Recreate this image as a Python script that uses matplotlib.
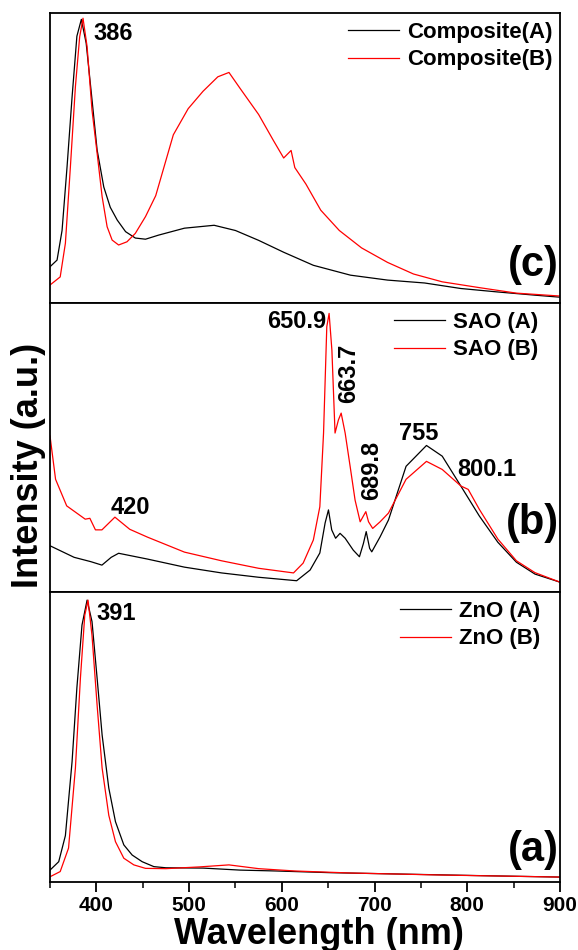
"""
Stacked photoluminescence spectra: ZnO (a), SAO (b) and composite (c)
samples, A (black) and B (red). Intensities are read off the figure
in arbitrary units (0-100 per panel).
"""

import matplotlib
matplotlib.use("Agg")
import matplotlib.pyplot as plt
from matplotlib.ticker import MultipleLocator

plt.rcParams['font.family'] = ['Liberation Sans', 'DejaVu Sans']
plt.rcParams['font.weight'] = 'bold'

# ---- panel (c): composites ----
comp_a_wl = [350, 357.6, 363, 368.4, 373.8, 379, 383.8, 389, 394.7, 400.8, 408,
             415, 422.5, 431.5, 442, 453, 467, 495, 527, 550, 575, 602, 634,
             674, 714, 754, 793, 833, 873, 900]
comp_a_int = [12.5, 14.8, 25, 47, 71, 92, 97.8, 89.6, 72, 52.8, 40,
              33, 28.6, 24.6, 22.4, 22, 23.4, 25.8, 26.8, 25, 21.6, 17.5, 13,
              9.6, 7.9, 6.9, 5, 3.8, 2.7, 2]
comp_b_wl = [350, 361, 366.6, 372, 377.4, 382, 385.6, 390, 395.3, 400.8, 406.2,
             411.6, 417, 424, 433, 442, 453, 464, 483, 499, 515, 531, 543, 555,
             575, 591, 602, 610, 614, 626, 642, 662, 686, 714, 742, 773, 813,
             853, 900]
comp_b_int = [6.2, 9, 20.6, 47, 74.6, 91.8, 98.2, 88.4, 66.5, 51.7, 36.7,
              26.3, 21.7, 20, 21.1, 24, 29.8, 37, 58, 67, 73, 78, 79.5, 74,
              65, 56, 50, 52.6, 46.7, 41, 32, 25, 19, 14, 10, 7.3, 5.3,
              3.4, 2.4]

# ---- panel (b): SAO ----
sao_a_wl = [350, 376, 394, 406, 416, 424, 455, 495, 535, 575, 616, 630.5, 641,
            646.7, 650.3, 653.8, 658, 662.8, 668.3, 677, 683.7, 688, 691,
            694.7, 697, 706, 715, 734, 756, 773, 793, 813, 833, 853, 873, 900]
sao_a_int = [16, 12, 10.5, 9.3, 12, 13.4, 11.4, 8.6, 6.6, 5.1, 3.9, 7.6, 13.5,
             23.9, 28.4, 21.5, 18.6, 20.3, 18.6, 14.5, 12.2, 16.8, 20.9,
             15.1, 13.9, 19.1, 24.9, 43.5, 50.7, 47, 36.7, 26.3, 17.2, 10.3, 6.2, 3.4]
sao_b_wl = [350, 356, 368, 388, 393, 399, 406, 420, 436, 455, 495, 535, 575,
            612.6, 623, 634, 641, 645, 648.5, 651, 654, 657.4, 661, 664, 668.3,
            673.7, 679, 684.5, 690.6, 693.5, 698, 706, 715, 734, 756, 773, 793,
            801, 813, 833, 853, 873, 900]
sao_b_int = [54, 39, 29.8, 25.2, 25.5, 21.5, 21.5, 25.9, 21.7, 19, 13.8, 10.8, 8.2,
             6.6, 10, 18, 29.5, 55, 91.8, 96.4, 83.7, 55, 59.5, 61.9, 55,
             43.4, 31.8, 24.3, 27.8, 24.3, 22, 24.3, 27.3, 39, 45.2, 42.4, 36.7,
             35.5, 28.6, 18.3, 10.8, 6.7, 3.4]

# ---- panel (a): ZnO ----
zno_a_wl = [350, 359.4, 366.6, 373.8, 379, 384.5, 390, 395.3, 400.8, 406.2,
            413.4, 420.6, 429.6, 438.6, 449.4, 462, 475, 515, 555, 594, 654,
            734, 813, 900]
zno_a_int = [4.1, 7, 16, 41.5, 67, 88.6, 97.2, 89.8, 70.3, 50.7,
             32.4, 20.8, 12.8, 9.3, 7, 5.3, 4.9, 4.8, 4.1, 3.8, 3.2,
             2.7, 2.2, 1.7]
zno_b_wl = [350, 361, 370, 377.4, 382.8, 387.5, 391, 395.3, 400.8, 406.2,
            413.4, 420.6, 429.6, 440.4, 453, 475, 511, 543, 575, 614, 674,
            773, 900]
zno_b_int = [1.8, 3.6, 11.7, 39.3, 70.3, 92, 97.2, 85, 61, 39.3,
             23, 13.9, 8.2, 5.9, 4.7, 4.6, 5.2, 5.9, 4.6, 3.8, 3.1,
             2.4, 1.7]

panels = [
    (comp_a_wl, comp_a_int, comp_b_wl, comp_b_int, 'Composite(A)', 'Composite(B)', '(c)'),
    (sao_a_wl, sao_a_int, sao_b_wl, sao_b_int, 'SAO (A)', 'SAO (B)', '(b)'),
    (zno_a_wl, zno_a_int, zno_b_wl, zno_b_int, 'ZnO (A)', 'ZnO (B)', '(a)'),
]
legend_x = {'(c)': 0.986, '(b)': 0.957, '(a)': 0.961}
tag_y = {'(c)': 0.13, '(b)': 0.24, '(a)': 0.11}

fig = plt.figure(figsize=(5.78, 9.5), dpi=100)
left, width = 50 / 578, 510 / 578
tops = [13, 303, 592, 882]
axes = []
for i, (wa, ia, wb, ib, la, lb, tag) in enumerate(panels):
    bottom = 1 - tops[i + 1] / 950
    height = (tops[i + 1] - tops[i]) / 950
    ax = fig.add_axes([left, bottom, width, height])
    ax.plot(wa, ia, color='black', lw=0.9, label=la)
    ax.plot(wb, ib, color='red', lw=0.9, label=lb)
    ax.set_xlim(350, 900)
    ax.set_ylim(0, 100)
    ax.set_yticks([])
    for s in ax.spines.values():
        s.set_linewidth(1.3)
    ax.legend(loc='upper right', frameon=False, fontsize=16, borderpad=0,
              borderaxespad=0, handlelength=2.3, handletextpad=0.36,
              labelspacing=0.3, bbox_to_anchor=(legend_x[tag], 0.97))
    ax.text(0.998, tag_y[tag], tag, transform=ax.transAxes, ha='right',
            va='center', fontsize=30, fontweight='bold')
    axes.append(ax)

ax_c, ax_b, ax_a = axes
for ax in (ax_c, ax_b):
    ax.tick_params(axis='x', which='both', length=0, labelbottom=False)

ax_a.xaxis.set_major_locator(MultipleLocator(100))
ax_a.xaxis.set_minor_locator(MultipleLocator(50))
ax_a.tick_params(axis='x', which='major', direction='out', length=7, width=1.3,
                 labelsize=15, pad=3)
ax_a.tick_params(axis='x', which='minor', direction='out', length=4, width=1.1)
for lab in ax_a.get_xticklabels():
    lab.set_fontweight('bold')

# peak labels
pk = dict(fontsize=17, fontweight='bold', va='center')
ax_c.text(397, 93, '386', ha='left', **pk)
ax_b.text(648, 93.5, '650.9', ha='right', **pk)
ax_b.text(672, 75.5, '663.7', ha='center', rotation=90, **pk)
ax_b.text(697, 42, '689.8', ha='center', rotation=90, **pk)
ax_b.text(748, 55, '755', ha='center', **pk)
ax_b.text(821, 42.4, '800.1', ha='center', **pk)
ax_b.text(436.5, 29.3, '420', ha='center', **pk)
ax_a.text(400, 92.5, '391', ha='left', **pk)

fig.text(319 / 578, 1 - 934 / 950, 'Wavelength (nm)', fontsize=26,
         fontweight='bold', ha='center', va='center')
fig.text(29 / 578, 1 - 465 / 950, 'Intensity (a.u.)', rotation=90,
         fontsize=26, fontweight='bold', ha='center', va='center')

fig.savefig('out.png', dpi=100)
